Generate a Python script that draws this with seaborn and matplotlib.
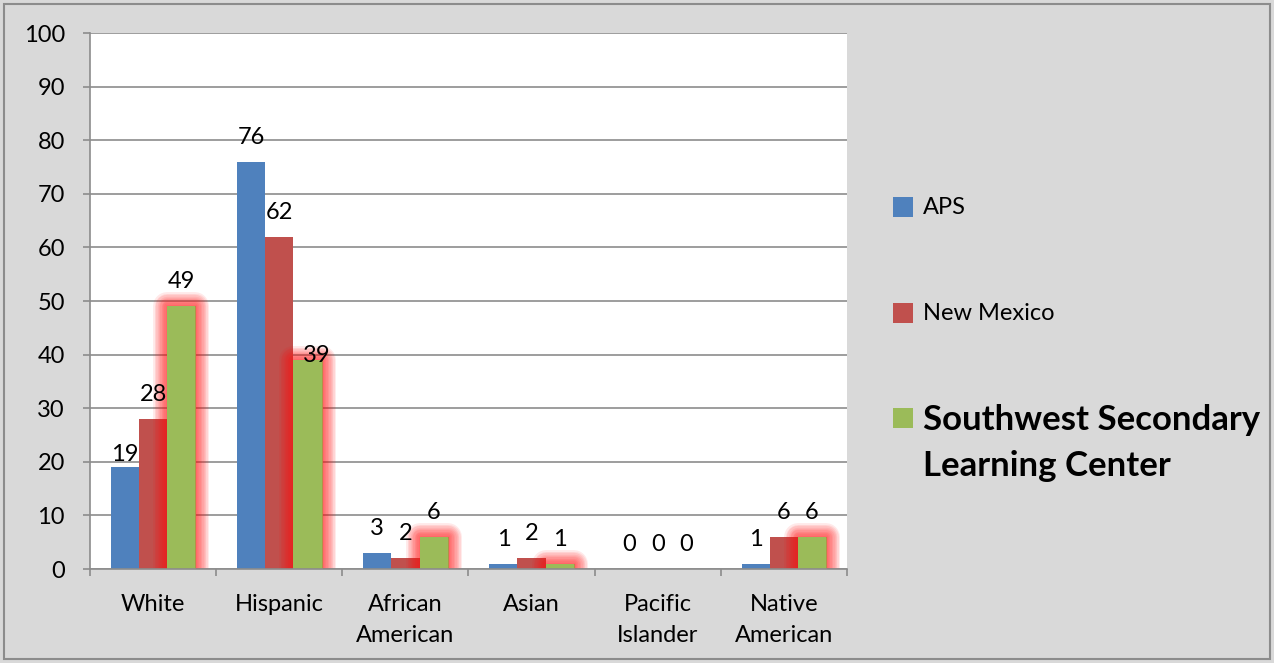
import matplotlib
matplotlib.use("Agg")
import matplotlib.pyplot as plt
import matplotlib.patheffects as pe
from matplotlib.patches import Rectangle
import seaborn as sns
import pandas as pd

categories = ["White", "Hispanic", "African\nAmerican", "Asian", "Pacific\nIslander", "Native\nAmerican"]
series = ["APS", "New Mexico", "Southwest Secondary\nLearning Center"]
aps = [19, 76, 3, 1, 0, 1]
new_mexico = [28, 62, 2, 2, 0, 6]
sslc = [49, 39, 6, 1, 0, 6]
colors = ["#4F81BD", "#C0504D", "#9BBB59"]
yticks = list(range(0, 101, 10))

rows = []
for s, vals in zip(series, [aps, new_mexico, sslc]):
    for c, v in zip(categories, vals):
        rows.append({"category": c, "series": s, "value": v})
df = pd.DataFrame(rows)

sns.set_style("white")
plt.rcParams["font.family"] = ["Lato", "DejaVu Sans"]
plt.rcParams["text.color"] = "black"

BG = "#D9D9D9"
GRID = "#8C8C8C"
FS = 17

fig = plt.figure(figsize=(12.74, 6.63), dpi=100, facecolor=BG)
ax = fig.add_axes([90/1274, 1-569/663, (847-90)/1274, (569-33)/663])
ax.set_facecolor("white")

sns.barplot(data=df, x="category", y="value", hue="series", order=categories,
            hue_order=series, palette=colors, width=0.67, saturation=1,
            ax=ax, legend=False, linewidth=0, errorbar=None)

# soft red glow on third series
glow = []
for lw in range(20, 0, -2):
    glow.append(pe.Stroke(linewidth=lw, foreground=(1, 0.05, 0.05, 0.09),
                          joinstyle="round"))
glow.append(pe.Normal())
for p in ax.containers[2]:
    if p.get_height() > 0:
        p.set_path_effects(glow)
    p.set_zorder(2.5)

for i, cont in enumerate(ax.containers):
    anns = ax.bar_label(cont, padding=10, fontsize=FS, color="black")
    if i == 0:
        anns[0].xyann = (0, 1.5)
    if i == 2:
        anns[1].xyann = (6.5, -4)

ax.set_ylim(0, 100)
ax.set_xlim(-0.5, len(categories) - 0.5)
ax.set_yticks(yticks)
ax.set_xlabel("")
ax.set_ylabel("")
ax.grid(axis="y", color=GRID, linewidth=1.2)
ax.grid(axis="x", visible=False)
ax.set_axisbelow(True)

for s in ["top", "right"]:
    ax.spines[s].set_visible(False)
for s in ["left", "bottom"]:
    ax.spines[s].set_color(GRID)
    ax.spines[s].set_linewidth(1.2)

ax.tick_params(axis="y", which="major", length=5, width=1.2, color=GRID,
               pad=13, labelsize=FS, labelcolor="black", left=True)
ax.set_xticks([x - 0.5 for x in range(len(categories) + 1)], minor=True)
ax.tick_params(axis="x", which="minor", length=5, width=1.2, color=GRID, bottom=True)
ax.tick_params(axis="x", which="major", length=0, pad=18, labelsize=FS, labelcolor="black")
for t in ax.get_xticklabels():
    t.set_linespacing(1.6)
    t.set_verticalalignment("top")

# legend drawn manually
W, H = 1274, 663
leg_y = [207, 313, 418]
for col, s, y in zip(colors, series, leg_y):
    fig.patches.append(Rectangle((893/W, 1-(y+10)/H), 20/W, 20/H,
                                 transform=fig.transFigure, facecolor=col,
                                 edgecolor="none"))
fig.text(923/W, 1-207/H, series[0], fontsize=FS, va="center", ha="left", color="black")
fig.text(923/W, 1-313/H, series[1], fontsize=FS, va="center", ha="left", color="black")
fig.text(923/W, 1-443/H, series[2], fontsize=25, fontweight="bold",
         va="center", ha="left", linespacing=1.5, color="black")

fig.patches.append(Rectangle((4/W, 4/H), 1-8/W, 1-8/H, transform=fig.transFigure,
                             facecolor="none", edgecolor="#8C8C8C", linewidth=1.5))

fig.savefig("out.png", dpi=100, facecolor=BG)
